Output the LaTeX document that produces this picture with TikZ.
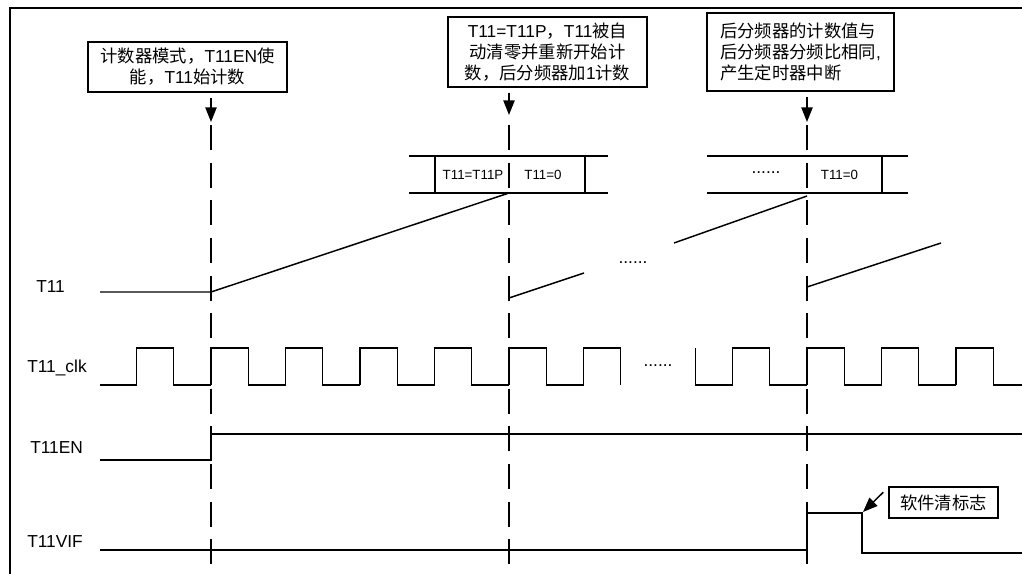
\documentclass[tikz,border=0pt]{standalone}
\usepackage{fontspec}
\setmainfont{Liberation Sans}
\newfontfamily\cjk{Noto Sans CJK SC}
\usetikzlibrary{arrows.meta, positioning}

\begin{document}
\begin{tikzpicture}[x=0.75pt, y=-0.75pt, >={Triangle[length=11pt,width=8.5pt]},
    note/.style={draw, line width=1.1pt, inner sep=0pt, font=\fontsize{13}{15.75}\selectfont},
    sig/.style={anchor=base west, inner sep=0pt, font=\fontsize{13}{15.75}\selectfont},
    cell/.style={inner sep=0pt, font=\fontsize{10}{12}\selectfont},
    dots/.style={inner sep=0pt, font=\fontsize{13}{15.75}\selectfont},
    wave/.style={line width=1.1pt},
    markline/.style={line width=2pt, dash pattern=on 18.75pt off 9.5pt}]
    \useasboundingbox (0,0) rectangle (1022,574);

    % Khung
    \draw[line width=1.5pt] (1022,8.5) -- (10,8.5) -- (10,574);

    % Tên tín hiệu
    \node[sig] (lt11) at (36,293) {T11};
    \node[sig] (lclk) at (27,373) {T11\_clk};
    \node[sig] (len) at (30,453) {T11EN};
    \node[sig] (lvif) at (27,547) {T11VIF};

    % Ghi chú
    \node[note, minimum width=149.25pt, minimum height=37.5pt, align=center] (mode) at (187.5,67)
        {{\cjk 计数器模式，}T11EN{\cjk 使}\\{\cjk 能，}T11{\cjk 始计数}};
    \node[note, minimum width=149.25pt, minimum height=52.5pt, align=center] (reload) at (547.5,52)
        {T11=T11P{\cjk ，}T11{\cjk 被自}\\{\cjk 动清零并重新开始计}\\{\cjk 数，后分频器加}1{\cjk 计数}};
    \node[note, minimum width=140.25pt, minimum height=58.5pt, align=left] (irq) at (800.5,52)
        {{\cjk 后分频器的计数值与}\\{\cjk 后分频器分频比相同},\\{\cjk 产生定时器中断}};
    \node[note, minimum width=81.75pt, minimum height=23.25pt] (clr) at (943.5,502.5) {\cjk 软件清标志};

    % Mũi tên
    \coordinate (e1) at (211,122);
    \coordinate (e2) at (509,115);
    \coordinate (e3) at (807,122);
    \coordinate (e4) at (863,512);
    \draw[->, line width=1.1pt, shorten <=3.75pt] (mode.south -| e1) -- (e1);
    \draw[->, line width=1.1pt, shorten <=3.75pt] (reload.south -| e2) -- (e2);
    \draw[->, line width=1.1pt, shorten <=3.75pt] (irq.south -| e3) -- (e3);
    \draw[->, line width=1.1pt] ([shift={(-5,6)}]clr.north west) -- (e4);

    % Thanh ghi T11
    \draw[wave] (409,156) -- (608,156) (409,193) -- (608,193);
    \draw[wave] (435,156) -- (435,193) (585,156) -- (585,193);
    \draw[wave] (707,156) -- (908,156) (707,193) -- (908,193);
    \draw[wave] (882,156) -- (882,193);
    \node[cell] (full) at (473,175) {T11=T11P};
    \node[cell] (zeroa) at (543,175) {T11=0};
    \node[dots] (skipa) at (766,173) {......};
    \node[cell] (zerob) at (839.5,175) {T11=0};

    % T11
    \draw[wave] (100,292) -- (211,292) -- (509,193);
    \draw[wave] (509,298) -- (584,273);
    \draw[wave] (674,243) -- (807,196);
    \draw[wave] (807,287) -- (941,243);
    \node[dots] (skipb) at (633,263) {......};

    % T11_clk
    \draw[wave] (100,385) -- (136.5,385);
    \foreach \r in {136.5,211,285.5,360,434.5,509}
        \draw[wave] (\r,385) -- (\r,348) -- ++(37.25,0) -- ++(0,37) -- ++(37.25,0);
    \draw[wave] (583.5,385) -- (583.5,348) -- (620.75,348) -- (620.75,385);
    \draw[wave] (695.75,348) -- (695.75,385) -- (732.5,385);
    \foreach \r in {732.5,807,881.5}
        \draw[wave] (\r,385) -- (\r,348) -- ++(37.25,0) -- ++(0,37) -- ++(37.25,0);
    \draw[wave] (956,385) -- (956,348) -- (993.75,348) -- (993.75,385) -- (1022,385);
    \node[dots] (skipc) at (658,366) {......};

    % T11EN
    \draw[wave] (100,460) -- (211,460) -- (211,434) -- (1022,434);

    % T11VIF
    \draw[wave] (100,550) -- (807,550) -- (807,513) -- (862,513) -- (862,553) -- (1022,553);

    % Đường mốc thời gian
    \foreach \x in {211,509,807}
        \draw[markline] (\x,125) -- (\x,566);
\end{tikzpicture}
\end{document}
